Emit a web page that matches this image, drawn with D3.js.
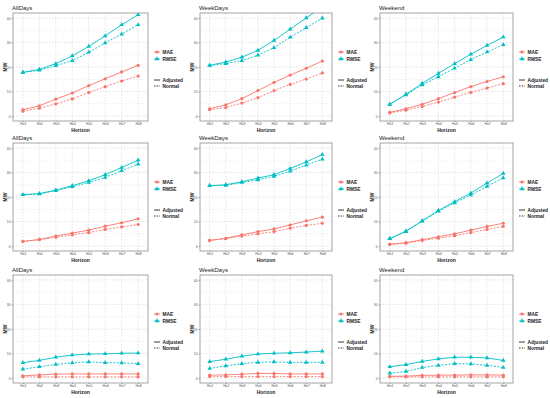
<!DOCTYPE html>
<html>
<head>
<meta charset="utf-8">
<script src="https://d3js.org/d3.v7.min.js"></script>
<style>
  body { margin: 0; background: #fff; }
  svg { display: block; font-family: "Liberation Sans", Arial, sans-serif; }
</style>
</head>
<body>
<svg id="chart" width="550" height="398"></svg>
<script>
const horizons = ['Ho1', 'Ho2', 'Ho3', 'Ho4', 'Ho5', 'Ho6', 'Ho7', 'Ho8'];
const yTicks = [0, 10, 20, 30, 40];
const titles = ['AllDays', 'WeekDays', 'Weekend'];

// row 1
const allDays1 = {
  maeAdj: [2.6, 4.2, 6.9, 9.4, 12.4, 15.2, 18.0, 20.7],
  maeNorm: [2.0, 3.2, 5.0, 7.0, 9.6, 12.0, 14.3, 16.3],
  rmseAdj: [17.8, 19.0, 21.4, 24.5, 28.4, 32.7, 37.2, 41.3],
  rmseNorm: [17.8, 18.7, 20.5, 22.6, 26.0, 29.8, 33.4, 37.2]
};
const weekDays1 = {
  maeAdj: [3.0, 4.6, 7.1, 10.4, 13.7, 16.7, 19.5, 22.4],
  maeNorm: [2.6, 3.5, 5.3, 7.5, 10.4, 12.9, 15.1, 17.6],
  rmseAdj: [20.7, 22.0, 24.0, 26.8, 30.8, 35.4, 40.0, 44.5],
  rmseNorm: [20.6, 21.4, 22.6, 24.8, 27.9, 32.1, 36.0, 39.9]
};
const weekend1 = {
  maeAdj: [1.5, 3.0, 4.8, 7.1, 9.6, 12.0, 14.1, 16.0],
  maeNorm: [1.3, 2.4, 3.9, 5.7, 7.7, 9.7, 11.4, 13.2],
  rmseAdj: [4.8, 8.9, 13.3, 17.4, 21.4, 25.2, 28.8, 32.2],
  rmseNorm: [4.8, 8.6, 12.7, 16.0, 19.5, 23.0, 26.1, 29.1]
};
// row 2
const allDays2 = {
  maeAdj: [1.9, 2.7, 4.1, 5.3, 6.5, 8.1, 9.5, 11.1],
  maeNorm: [1.9, 2.6, 3.6, 4.6, 5.5, 6.8, 7.8, 8.8],
  rmseAdj: [20.9, 21.4, 22.8, 24.6, 26.6, 29.1, 32.0, 35.0],
  rmseNorm: [20.9, 21.2, 22.6, 24.2, 25.9, 28.0, 30.7, 33.4]
};
const weekDays2 = {
  maeAdj: [2.3, 3.2, 4.6, 5.9, 7.0, 8.6, 10.3, 11.8],
  maeNorm: [2.3, 3.0, 4.1, 5.0, 5.9, 7.3, 8.4, 9.3],
  rmseAdj: [24.6, 25.0, 26.2, 27.7, 29.1, 31.6, 34.3, 37.3],
  rmseNorm: [24.6, 24.7, 25.9, 27.0, 28.4, 30.5, 33.0, 35.4]
};
const weekend2 = {
  maeAdj: [0.7, 1.4, 2.6, 3.8, 5.0, 6.5, 8.0, 9.3],
  maeNorm: [0.7, 1.2, 2.3, 3.2, 4.2, 5.5, 6.8, 8.0],
  rmseAdj: [3.0, 6.1, 10.3, 14.5, 18.1, 21.6, 25.7, 29.6],
  rmseNorm: [3.0, 5.9, 10.1, 14.2, 17.6, 20.8, 24.3, 27.8]
};
// row 3
const allDays3 = {
  maeAdj: [0.9, 1.3, 1.6, 1.7, 1.7, 1.7, 1.7, 1.7],
  maeNorm: [0.5, 0.5, 0.5, 0.5, 0.5, 0.5, 0.5, 0.5],
  rmseAdj: [6.3, 7.2, 8.5, 9.4, 9.8, 9.9, 10.1, 10.2],
  rmseNorm: [3.6, 4.6, 5.6, 6.2, 6.6, 6.3, 6.2, 5.9]
};
const weekDays3 = {
  maeAdj: [1.2, 1.3, 1.6, 1.9, 1.9, 1.7, 1.7, 1.7],
  maeNorm: [0.6, 0.6, 0.6, 0.6, 0.6, 0.6, 0.6, 0.6],
  rmseAdj: [6.7, 7.7, 8.9, 9.8, 10.1, 10.3, 10.6, 11.0],
  rmseNorm: [3.9, 5.0, 5.9, 6.4, 6.6, 6.4, 6.4, 6.4]
};
const weekend3 = {
  maeAdj: [0.7, 0.8, 1.1, 1.2, 1.2, 1.3, 1.3, 1.2],
  maeNorm: [0.5, 0.5, 0.5, 0.5, 0.5, 0.5, 0.5, 0.5],
  rmseAdj: [4.6, 5.5, 6.8, 7.8, 8.5, 8.5, 8.2, 7.2],
  rmseNorm: [2.0, 2.7, 4.3, 5.2, 5.9, 5.8, 5.2, 4.3]
};

const panelsData = [
  [allDays1, weekDays1, weekend1],
  [allDays2, weekDays2, weekend2],
  [allDays3, weekDays3, weekend3]
];

const colMae = '#F8766D';
const colRmse = '#00BFC4';

// layout
const rowTop = [0, 130, 262];
const cols = [
  { left: 13, right: 148 },
  { left: 200, right: 332 },
  { left: 380, right: 513 }
];
const plotTop = 13, plotBottom = 121;

const svg = d3.select('#chart');
const triangle = d3.symbol().type(d3.symbolTriangle).size(9);

panelsData.forEach((row, ri) => {
  row.forEach((d, ci) => {
    const c = cols[ci];
    const oy = rowTop[ri];
    const g = svg.append('g').attr('transform', `translate(0, ${oy})`);

    const x = d3.scalePoint().domain(horizons).range([c.left, c.right]).padding(0.6);
    const y = d3.scaleLinear().domain([-2, 42]).range([plotBottom, plotTop]);

    const clipId = `clip-${ri}-${ci}`;
    g.append('clipPath').attr('id', clipId)
      .append('rect')
      .attr('x', c.left).attr('y', plotTop)
      .attr('width', c.right - c.left).attr('height', plotBottom - plotTop);

    // grid
    const grid = g.append('g');
    const minor = [5, 15, 25, 35];
    grid.selectAll('line.ymin').data(minor).join('line')
      .attr('x1', c.left).attr('x2', c.right)
      .attr('y1', y).attr('y2', y)
      .attr('stroke', '#e2e2e2').attr('stroke-width', 0.5).attr('stroke-dasharray', '1.5,1.5');
    grid.selectAll('line.ymaj').data(yTicks).join('line')
      .attr('x1', c.left).attr('x2', c.right)
      .attr('y1', y).attr('y2', y)
      .attr('stroke', '#d4d4d4').attr('stroke-width', 0.6).attr('stroke-dasharray', '1.5,1.5');
    grid.selectAll('line.xmaj').data(horizons).join('line')
      .attr('x1', x).attr('x2', x)
      .attr('y1', plotTop).attr('y2', plotBottom)
      .attr('stroke', '#d4d4d4').attr('stroke-width', 0.6).attr('stroke-dasharray', '1.5,1.5');

    // series
    const series = [
      { vals: d.maeAdj, color: colMae, dash: null, shape: 'circle' },
      { vals: d.maeNorm, color: colMae, dash: '2,1.5', shape: 'circle' },
      { vals: d.rmseAdj, color: colRmse, dash: null, shape: 'triangle' },
      { vals: d.rmseNorm, color: colRmse, dash: '2,1.5', shape: 'triangle' }
    ];
    const line = d3.line().x((v, i) => x(horizons[i])).y(v => y(v));
    const marks = g.append('g').attr('clip-path', `url(#${clipId})`);
    series.forEach(s => {
      marks.append('path')
        .attr('d', line(s.vals))
        .attr('fill', 'none')
        .attr('stroke', s.color)
        .attr('stroke-width', 0.9)
        .attr('stroke-dasharray', s.dash);
      if (s.shape === 'circle') {
        marks.selectAll(null).data(s.vals).join('circle')
          .attr('cx', (v, i) => x(horizons[i])).attr('cy', v => y(v))
          .attr('r', 1.6).attr('fill', s.color);
      } else {
        marks.selectAll(null).data(s.vals).join('path')
          .attr('d', triangle)
          .attr('transform', (v, i) => `translate(${x(horizons[i])}, ${y(v)})`)
          .attr('fill', s.color);
      }
    });

    // border
    g.append('rect')
      .attr('x', c.left).attr('y', plotTop)
      .attr('width', c.right - c.left).attr('height', plotBottom - plotTop)
      .attr('fill', 'none').attr('stroke', '#7f7f7f').attr('stroke-width', 0.7);

    // axes
    const yAxis = d3.axisLeft(y).tickValues(yTicks).tickSize(1.2).tickPadding(1.2);
    const ya = g.append('g').attr('transform', `translate(${c.left}, 0)`).call(yAxis);
    const xAxis = d3.axisBottom(x).tickSize(1).tickPadding(0.8);
    const xa = g.append('g').attr('transform', `translate(0, ${plotBottom})`).call(xAxis);
    [ya, xa].forEach(a => {
      a.select('.domain').remove();
      a.selectAll('.tick line').attr('stroke', '#555').attr('stroke-width', 0.5);
      a.selectAll('.tick text').attr('fill', '#555').style('font-size', '3.4px');
    });

    // labels
    g.append('text')
      .attr('x', c.left - 1).attr('y', 9.5)
      .style('font-size', '6px').attr('fill', '#222')
      .text(titles[ci]);
    g.append('text')
      .attr('x', (c.left + c.right) / 2).attr('y', 132)
      .attr('text-anchor', 'middle')
      .style('font-size', '5px').style('font-weight', 'bold').attr('fill', '#222')
      .text('Horizon');
    g.append('text')
      .attr('transform', `translate(${c.left - 6.5}, ${(plotTop + plotBottom) / 2}) rotate(-90)`)
      .attr('text-anchor', 'middle')
      .style('font-size', '5px').style('font-weight', 'bold').attr('fill', '#222')
      .text('MW');

    // legend
    const lg = g.append('g').attr('transform', `translate(${c.right + 6}, 0)`);
    const items = [
      { label: 'MAE', color: colMae, shape: 'circle', y: 52 },
      { label: 'RMSE', color: colRmse, shape: 'triangle', y: 59 }
    ];
    items.forEach(it => {
      lg.append('line').attr('x1', 0).attr('x2', 6).attr('y1', it.y).attr('y2', it.y)
        .attr('stroke', it.color).attr('stroke-width', 0.9);
      if (it.shape === 'circle') {
        lg.append('circle').attr('cx', 3).attr('cy', it.y).attr('r', 1.6).attr('fill', it.color);
      } else {
        lg.append('path').attr('d', triangle).attr('transform', `translate(3, ${it.y})`).attr('fill', it.color);
      }
      lg.append('text').attr('x', 8.5).attr('y', it.y + 1.7)
        .style('font-size', '4.8px').style('font-weight', 'bold').attr('fill', '#222')
        .text(it.label);
    });
    const lt = [
      { label: 'Adjusted', dash: null, y: 80 },
      { label: 'Normal', dash: '1.5,1.2', y: 86 }
    ];
    lt.forEach(it => {
      lg.append('line').attr('x1', 0).attr('x2', 6).attr('y1', it.y).attr('y2', it.y)
        .attr('stroke', '#222').attr('stroke-width', 0.9).attr('stroke-dasharray', it.dash);
      lg.append('text').attr('x', 8.5).attr('y', it.y + 1.7)
        .style('font-size', '4.8px').style('font-weight', 'bold').attr('fill', '#222')
        .text(it.label);
    });
  });
});
</script>
</body>
</html>
